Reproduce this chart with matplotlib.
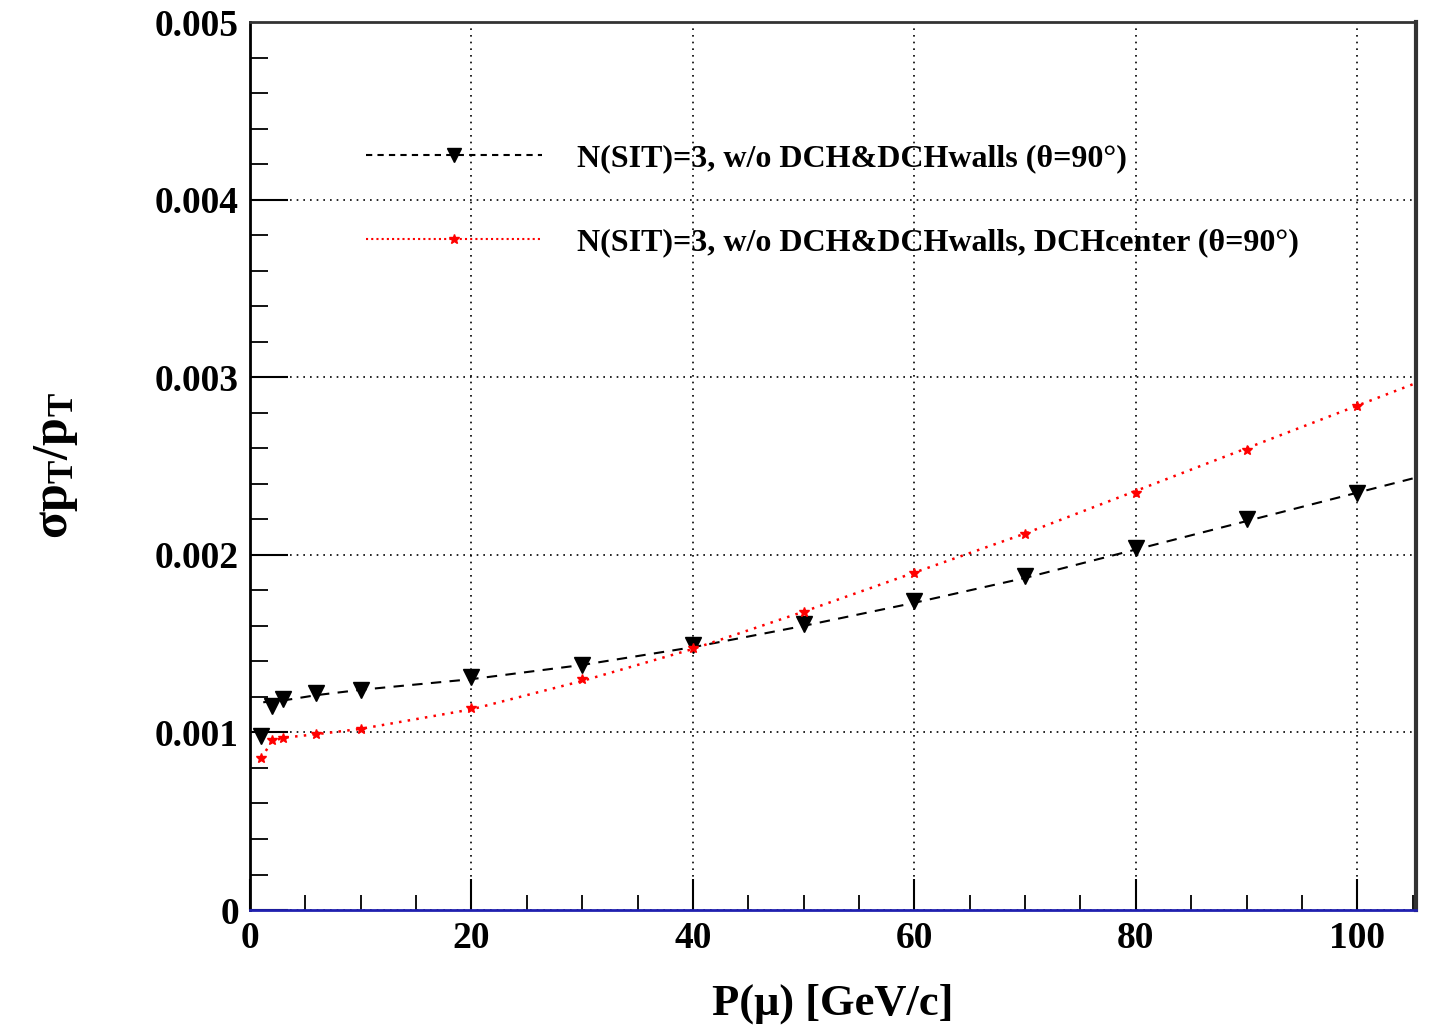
import matplotlib
matplotlib.use("Agg")
import matplotlib.pyplot as plt
from matplotlib.ticker import MultipleLocator
from matplotlib.lines import Line2D

# ---- data ----
p_black = [1, 2, 3, 6, 10, 20, 30, 40, 50, 60, 70, 80, 90, 100]
res_black = [0.00098, 0.00115, 0.00119, 0.00122, 0.00124, 0.00131, 0.00138,
             0.00149, 0.00161, 0.00174, 0.00188, 0.00204, 0.00220, 0.00235]
p_red = [1, 2, 3, 6, 10, 20, 30, 40, 50, 60, 70, 80, 90, 100]
res_red = [0.000855, 0.000955, 0.00097, 0.00099, 0.00102, 0.00114, 0.00130,
           0.001475, 0.00168, 0.00190, 0.00212, 0.00235, 0.00259, 0.00284]

# fitted curves
fit_x_black = [1.2, 3, 6, 10, 20, 30, 40, 50, 60, 70, 80, 90, 100, 105]
fit_black = [0.00117, 0.00118, 0.00121, 0.00124, 0.00130, 0.00138, 0.00148,
             0.00160, 0.00173, 0.00187, 0.00203, 0.00219, 0.00235, 0.00243]
fit_x_red = [1, 2, 3, 6, 10, 20, 30, 40, 50, 60, 70, 80, 90, 100, 105]
fit_red = [0.000855, 0.00095, 0.00097, 0.00099, 0.00102, 0.00113, 0.00129,
           0.00147, 0.00168, 0.00190, 0.00212, 0.00236, 0.00260, 0.00284, 0.00296]

x_ticks = [0, 20, 40, 60, 80, 100]
x_ticklabels = ["0", "20", "40", "60", "80", "100"]
y_ticks = [0, 0.001, 0.002, 0.003, 0.004, 0.005]
y_ticklabels = ["0", "0.001", "0.002", "0.003", "0.004", "0.005"]

label_black = "N(SIT)=3, w/o DCH&DCHwalls (\u03b8=90\u00b0)"
label_red = "N(SIT)=3, w/o DCH&DCHwalls, DCHcenter (\u03b8=90\u00b0)"
xlabel = "P(\u03bc) [GeV/c]"
ylabel = r"$\mathbf{\sigma p_{T}/p_{T}}$"

serif = ["Liberation Serif", "DejaVu Serif"]
plt.rcParams["font.family"] = serif
plt.rcParams["mathtext.fontset"] = "custom"
plt.rcParams["mathtext.rm"] = "Liberation Serif"
plt.rcParams["mathtext.bf"] = "Liberation Serif:bold"
plt.rcParams["mathtext.it"] = "Liberation Serif:italic:bold"

fig = plt.figure(figsize=(14.30, 10.29), dpi=100)
ax = fig.add_axes([0.1748, 0.1156, 0.9902 - 0.1748, 0.9786 - 0.1156])

ax.set_xlim(0, 105.3)
ax.set_ylim(0, 0.005)

# grid
ax.grid(True, which="major", linestyle=(0, (1, 3)), color="black", linewidth=1.2)
ax.xaxis.set_major_locator(MultipleLocator(20))
ax.xaxis.set_minor_locator(MultipleLocator(5))
ax.yaxis.set_major_locator(MultipleLocator(0.001))
ax.yaxis.set_minor_locator(MultipleLocator(0.0002))

# fits
ax.plot(fit_x_black, fit_black, color="black", linestyle=(0, (5, 4)), linewidth=1.5, zorder=3)
ax.plot(fit_x_red, fit_red, color="red", linestyle=(0, (1, 2.5)), linewidth=1.8, zorder=3)
# points
ax.plot(p_black, res_black, linestyle="none", marker="v", color="black", markersize=12, zorder=4)
ax.plot(p_red, res_red, linestyle="none", marker="*", color="red", markersize=7, zorder=5)

# spines
ax.spines["top"].set_color("#333333")
ax.spines["top"].set_linewidth(2)
ax.spines["left"].set_color("black")
ax.spines["left"].set_linewidth(2)
ax.spines["right"].set_color("#333333")
ax.spines["right"].set_linewidth(3)
ax.spines["bottom"].set_color("#2020b0")
ax.spines["bottom"].set_linewidth(2)

ax.tick_params(axis="both", which="major", direction="in", color="black", width=1.5)
ax.tick_params(axis="y", which="major", length=27, left=True, right=False)
ax.tick_params(axis="y", which="minor", length=13, direction="in", width=1.3, left=True, right=False)
ax.tick_params(axis="x", which="major", length=22, top=False)
ax.tick_params(axis="x", which="minor", length=11, direction="in", width=1.3, top=False, color="black")
ax.tick_params(axis="x", which="major", pad=8)
ax.tick_params(axis="y", which="major", pad=8)

ax.set_xticks(x_ticks)
ax.set_xticklabels(x_ticklabels)
ax.set_yticks(y_ticks)
ax.set_yticklabels(y_ticklabels)
for lab in ax.get_xticklabels() + ax.get_yticklabels():
    lab.set_fontsize(27)
    lab.set_fontweight("bold")
    lab.set_family(serif)

# top y tick mark coincides with frame in the reference: hide its tick line
ax.yaxis.get_major_ticks()[-1].tick1line.set_visible(False)

ax.set_xlabel(xlabel, fontsize=32, fontweight="bold", family=serif)
ax.xaxis.set_label_coords(0.5, -0.083)
ax.set_ylabel(ylabel, fontsize=36)
ax.yaxis.set_label_coords(-0.146, 0.5)

# legend (no frame)
h1 = Line2D([], [], color="black", linestyle=(0, (3, 2.5)), linewidth=1.5,
            marker="v", markersize=10)
h2 = Line2D([], [], color="red", linestyle=(0, (1, 1.5)), linewidth=1.5,
            marker="*", markersize=7)
leg = ax.legend([h1, h2], [label_black, label_red], loc="upper left",
                bbox_to_anchor=(0.075, 0.895), frameon=False, handlelength=5.5,
                handletextpad=1.1, labelspacing=1.72, numpoints=1,
                prop={"family": serif, "weight": "bold", "size": 23})

fig.savefig("out.png", dpi=100)
